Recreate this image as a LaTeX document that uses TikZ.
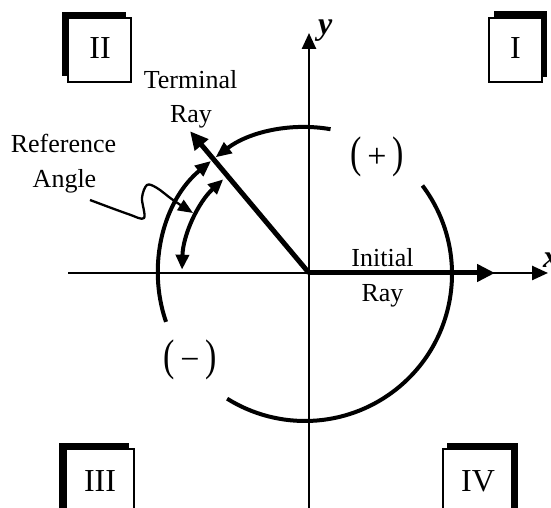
\documentclass[tikz,border=0pt]{standalone}
\usepackage{fontspec}
\setmainfont{Liberation Serif}
\usepackage{graphicx}
\usetikzlibrary{arrows.meta}
\newcommand{\bigpar}[1]{\scalebox{1}[1.3]{#1}}
\begin{document}
\begin{tikzpicture}[x=1pt,y=1pt,
  lbl/.style={font=\fontsize{26}{30}\selectfont, inner sep=0pt, anchor=base},
  numtext/.style={font=\fontsize{32}{36}\selectfont, inner sep=0pt},
  sgn/.style={font=\fontsize{34}{38}\selectfont, inner sep=0pt},
  axlbl/.style={font=\fontsize{32}{36}\selectfont\bfseries\itshape, inner sep=0pt, anchor=base west},
  axisline/.style={line width=2.5pt, -{Triangle[length=16pt,width=14pt]}},
  rayline/.style={line width=5pt, -{Triangle[length=18pt,width=17pt]}},
  arcline/.style={line width=4pt},
  arctip/.style={-{Triangle[length=16pt,width=13pt]}},
  shadowbox/.style={fill=black},
  frontbox/.style={fill=white, draw=black, line width=1.2pt},
]
\useasboundingbox (0,0) rectangle (551,508);
\clip (0,0) rectangle (551,508);

% key points
\coordinate (O) at (309,235);
\coordinate (C) at (305,234);
\coordinate (xl) at (68,235);
\coordinate (xr) at (548,235);
\coordinate (yb) at (309,-5);
\coordinate (yt) at (309,475);
\coordinate (IR) at (495,235);
\coordinate (TR) at ([shift={(130:185)}]O);

% axes
\draw[axisline] (xl) -- (xr);
\draw[axisline] (yb) -- (yt);
\node[axlbl] (xlab) at (543,240) {x};
\node[axlbl] (ylab) at (318,473) {y};

% rays
\draw[rayline] (O) -- (IR);
\draw[rayline] (O) -- (TR);

% angle arcs
\draw[arcline] ([shift={(37:147)}]C) arc[start angle=37, end angle=-122, radius=147];
\draw[arcline, arctip] ([shift={(199:147)}]C) arc[start angle=199, end angle=129.7, radius=147];
\draw[arcline, arctip] ([shift={(80:147)}]C) arc[start angle=80, end angle=127.5, radius=147];
\draw[arcline, {Triangle[length=15pt,width=13pt]}-{Triangle[length=15pt,width=13pt]}]
  ([shift={(178.5:127)}]O) arc[start angle=178.5, end angle=132.5, radius=127];

% squiggle pointer
\draw[line width=2.3pt, -{Triangle[length=15pt,width=12pt]}]
  plot[smooth, tension=0.55] coordinates {(90,308) (128,294) (144,290) (142,310) (147,323) (157,320) (173,308) (193,295)};

% labels
\node[lbl] (term) at (190.5,419) {Terminal};
\node[lbl] (tray) at (191,385) {Ray};
\node[lbl] (ref) at (63.5,355) {Reference};
\node[lbl] (ang) at (64.5,320) {Angle};
\node[lbl] (init) at (382.5,241) {Initial};
\node[lbl] (iray) at (382.5,206) {Ray};
\node[sgn] (plus) at (377,351) {\bigpar{(}\,+\,\bigpar{)}};
\node[sgn] (minus) at (190,148) {\bigpar{(}\,−\,\bigpar{)}};

% quadrant boxes
\fill[shadowbox] (62,432) rectangle (126,496);
\draw[frontbox] (68,426) rectangle (131,490);
\node[numtext] (q2) at (100,460) {II};

\fill[shadowbox] (494,431) rectangle (547,497);
\draw[frontbox] (489,426) rectangle (542,490);
\node[numtext] (q1) at (515.5,460) {I};

\fill[shadowbox] (59,65) rectangle (129,-100);
\draw[frontbox] (66,59) rectangle (134,-100);
\node[numtext] (q3) at (100,27) {III};

\fill[shadowbox] (447,65) rectangle (518,-100);
\draw[frontbox] (443,59) rectangle (512,-100);
\node[numtext] (q4) at (478,27) {IV};
\end{tikzpicture}
\end{document}
